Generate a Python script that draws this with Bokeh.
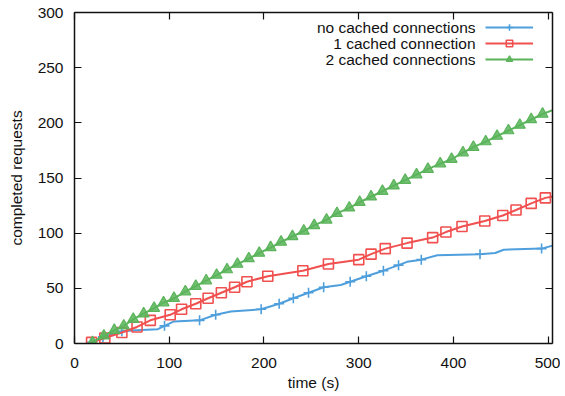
from bokeh.plotting import figure
from bokeh.models import (Range1d, LinearAxis, FixedTicker, Legend, LegendItem, Label,
                          ColumnDataSource, CDSView, BooleanFilter)
from bokeh.embed import file_html
from bokeh.resources import INLINE

# ---- data ----
x_ticks = [0, 100, 200, 300, 400, 500]
y_ticks = [0, 50, 100, 150, 200, 250, 300]

series_names = ["no cached connections", "1 cached connection", "2 cached connections"]

blue_t = [18, 30, 50, 65, 88, 95, 105, 132, 149, 165, 197, 216, 231, 247, 263, 281, 291,
          308, 326, 342, 351, 366, 383, 428, 444, 453, 493, 506]
blue_n = [1, 6, 11, 12, 13, 16, 20, 21, 26, 29, 31, 36, 41, 46, 51, 53, 56,
          61, 66, 71, 74, 76, 80, 81, 82, 85, 86, 89]
blue_mark = [1, 1, 1, 0, 0, 1, 0, 1, 1, 0, 1, 1, 1, 1, 1, 0, 1,
             1, 1, 1, 0, 1, 0, 1, 0, 0, 1, 0]

red_t = [18, 32, 50, 66, 80, 101, 113, 128, 141, 155, 169, 182, 204, 241, 268, 300, 313,
         328, 351, 378, 392, 409, 433, 452, 466, 482, 497, 510]
red_n = [1, 5, 10, 15, 21, 26, 31, 36, 41, 46, 51, 56, 61, 66, 72, 76, 81,
         86, 91, 96, 101, 106, 111, 116, 121, 127, 132, 134]
red_mark = [1] * 27 + [0]

green_t = [19, 31, 42, 52, 62, 73, 84, 94, 105, 117, 128, 139, 150, 161, 172, 184, 195,
           207, 218, 230, 242, 253, 266, 277, 290, 301, 313, 325, 337, 349, 361, 373,
           386, 398, 410, 421, 434, 446, 458, 470, 482, 494, 506]
green_n = [1, 7, 12, 16, 22, 27, 32, 37, 41, 47, 52, 57, 62, 67, 72, 77, 82,
           87, 92, 97, 102, 107, 112, 118, 123, 128, 133, 138, 143, 148, 153, 158,
           163, 167, 173, 178, 183, 188, 193, 198, 203, 208, 212]
green_mark = [1] * 42 + [0]

BLUE = "#4f9fdc"
RED = "#f0504f"
GREEN = "#5bb45b"
FONT = "Liberation Sans"
FS = "15.5px"

p = figure(frame_width=478, frame_height=331, output_backend="svg", toolbar_location=None,
           x_range=Range1d(0, 504.5), y_range=Range1d(0, 300),
           min_border_left=74, min_border_right=8, min_border_top=12, min_border_bottom=44)
p.xgrid.visible = False
p.ygrid.visible = False
p.outline_line_color = None
p.background_fill_color = "white"

for ax, ticks in ((p.xaxis[0], x_ticks), (p.yaxis[0], y_ticks)):
    ax.ticker = FixedTicker(ticks=ticks)
    ax.major_tick_in = 7
    ax.major_tick_out = 0
    ax.minor_tick_line_color = None
    ax.axis_line_width = 1.5
    ax.axis_line_color = "#111111"
    ax.major_tick_line_color = "#111111"
    ax.major_tick_line_width = 1.2
    ax.major_label_text_font = FONT
    ax.major_label_text_font_size = FS
    ax.major_label_text_color = "#111111"
    ax.axis_label_text_font = FONT
    ax.axis_label_text_font_size = FS
    ax.axis_label_text_font_style = "normal"
    ax.axis_label_text_color = "#111111"

p.xaxis.axis_label = "time (s)"
p.xaxis.major_label_standoff = 14
p.xaxis.axis_label_standoff = 3
p.yaxis.axis_label = "completed requests"
p.yaxis.major_label_standoff = 11
p.yaxis.axis_label_standoff = 10

for loc, ticks in (("above", x_ticks), ("right", y_ticks)):
    ax = LinearAxis(ticker=FixedTicker(ticks=ticks),
                    major_label_overrides={t: "" for t in ticks},
                    major_label_text_font_size="1px",
                    major_label_standoff=0, major_tick_in=7, major_tick_out=0,
                    minor_tick_line_color=None, axis_line_width=1.5,
                    axis_line_color="#111111", major_tick_line_color="#111111",
                    major_tick_line_width=1.2)
    p.add_layout(ax, loc)

items = []
specs = [
    (blue_t, blue_n, blue_mark, BLUE, dict(marker="cross", size=10, line_width=1.6)),
    (red_t, red_n, red_mark, RED, dict(marker="square", size=10, fill_color=None, line_width=1.6)),
    (green_t, green_n, green_mark, GREEN, dict(marker="triangle", size=11, fill_alpha=0.85, line_width=1.2)),
]
for name, (t, n, mk, col, mkw) in zip(series_names, specs):
    src = ColumnDataSource(dict(t=t, n=n))
    ln = p.line("t", "n", source=src, line_color=col, line_width=2)
    view = CDSView(filter=BooleanFilter([bool(m) for m in mk]))
    sc = p.scatter("t", "n", source=src, view=view, line_color=col,
                   **({"fill_color": col} if "fill_color" not in mkw else {}), **mkw)
    items.append(LegendItem(label=" ", renderers=[ln, sc]))

legend = Legend(items=items, location=(411, 276), glyph_width=48, glyph_height=16,
                label_width=0, label_height=16, label_standoff=0, spacing=0, padding=0,
                margin=0, border_line_color=None, background_fill_alpha=0,
                label_text_font_size="8px")
p.add_layout(legend)

for i, name in enumerate(series_names):
    p.add_layout(Label(x=401, y=316.5 - 16.3 * i, x_units="screen", y_units="screen",
                       text=name, text_align="right", text_baseline="middle",
                       text_font=FONT, text_font_size=FS, text_color="#111111"))

open("out.html", "w").write(file_html(p, INLINE))
